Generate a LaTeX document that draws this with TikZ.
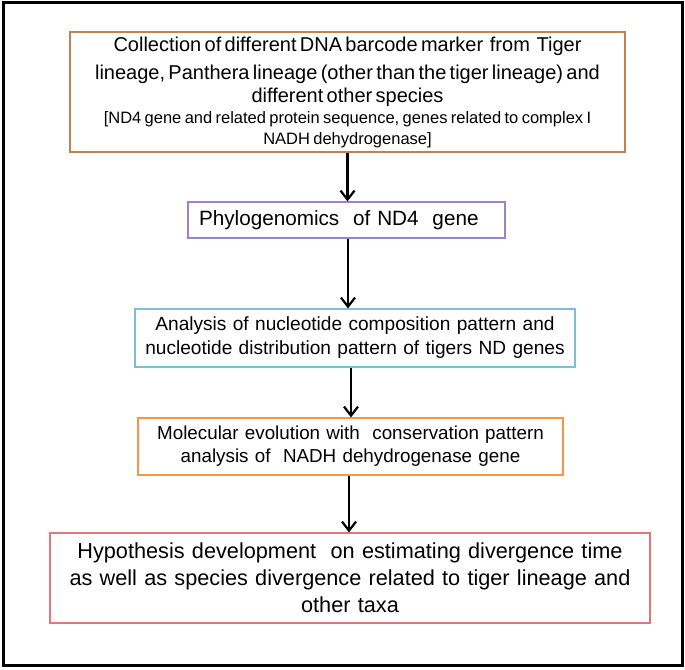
\documentclass[tikz,border=0pt]{standalone}
\usepackage{fontspec}
\setmainfont{Liberation Sans}
\usetikzlibrary{arrows.meta}
\definecolor{cbrown}{RGB}{196,128,78}
\definecolor{cpurple}{RGB}{158,130,200}
\definecolor{cblue}{RGB}{125,192,212}
\definecolor{corange}{RGB}{247,150,70}
\definecolor{cred}{RGB}{224,120,120}
\begin{document}
\begin{tikzpicture}[x=1pt,y=-1pt,
  box/.style={draw, line width=1.2pt, inner sep=0pt, align=center, fill=white},
  arr/.style={line width=2.4pt, -{Straight Barb[length=9pt,width=14pt,line width=2.2pt]}}]
\useasboundingbox (0,0) rectangle (685,669);
\draw[line width=3pt] (3,3) rectangle (682,665);
\node[box, draw=cbrown, minimum width=555pt, minimum height=120pt, text width=550pt] (b1) at (347.5,92)
  {\vspace*{6pt}{\fontsize{20}{22.5}\selectfont Collection of different DNA barcode marker \ from \ Tiger\\
   lineage, Panthera lineage (other than the tiger lineage) and\\
   different other species\par}
   {\fontsize{16.5}{21}\selectfont [ND4 gene and related protein sequence, genes related to complex I\\
   NADH dehydrogenase]\par}};
\node[box, draw=cpurple, minimum width=317pt, minimum height=36pt, text width=295pt, align=left,
  font=\fontsize{20.7}{24}\selectfont] (b2) at (346.5,220)
  {\mbox{Phylogenomics \ of ND4 \ gene}};
\node[box, draw=cblue, minimum width=440pt, minimum height=58pt, text width=435pt,
  font=\fontsize{19.1}{24}\selectfont] (b3) at (355,338)
  {Analysis of nucleotide composition pattern and\\
   nucleotide distribution pattern of tigers ND genes};
\node[box, draw=corange, minimum width=425pt, minimum height=57pt, text width=420pt,
  font=\fontsize{18.8}{23}\selectfont] (b4) at (350.5,446.5)
  {Molecular evolution with \ conservation pattern\\
   analysis of \ NADH dehydrogenase gene};
\node[box, draw=cred, minimum width=600pt, minimum height=90pt, text width=595pt,
  font=\fontsize{21.7}{27}\selectfont] (b5) at (350,578)
  {Hypothesis development \ on estimating divergence time\\
   as well as species divergence related to tiger lineage and\\
   other taxa};
\draw[arr] (b1.south) -- (b1.south |- b2.north);
\draw[arr] (b2.south) ++(1.5,0) coordinate (a2s) -- (a2s |- b3.north);
\draw[arr] (b3.south) ++(-4,0) coordinate (a3s) -- (a3s |- b4.north);
\draw[arr] (b4.south) ++(-1.5,0) coordinate (a4s) -- (a4s |- b5.north);
\end{tikzpicture}
\end{document}
